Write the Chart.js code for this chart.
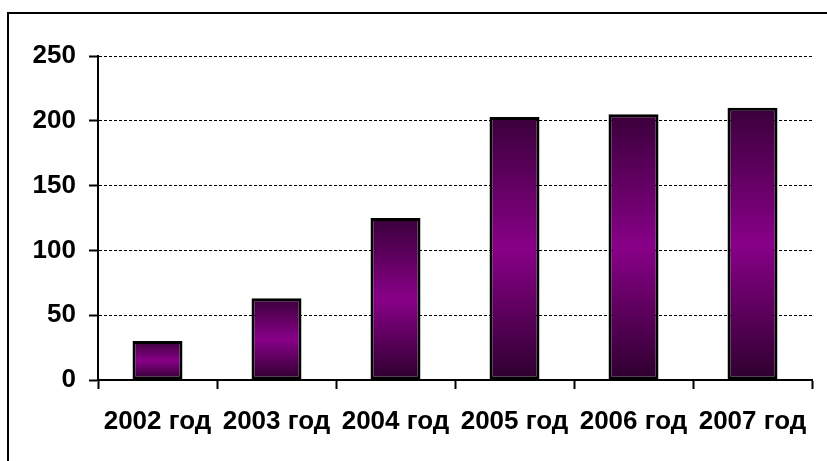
<!DOCTYPE html>
<html>
<head>
<meta charset="utf-8">
<script src="https://cdn.jsdelivr.net/npm/chart.js@4/dist/chart.umd.min.js"></script>
<style>
  html, body { margin: 0; padding: 0; background: #fff; overflow: hidden; }
  .frame {
    position: absolute; left: 7px; top: 12px; width: 900px; height: 600px;
    border: 2px solid #000;
  }
  .wrap { position: absolute; left: 0; top: 0; width: 827px; height: 461px; }
</style>
</head>
<body>
<div class="frame"></div>
<div class="wrap"><canvas id="chart"></canvas></div>
<script>
const categories = ['2002 год', '2003 год', '2004 год', '2005 год', '2006 год', '2007 год'];
const values = [30, 63, 125, 203, 205, 210];
const yTicks = [0, 50, 100, 150, 200, 250];

const font = { family: '"Liberation Sans", Arial, sans-serif', size: 26, weight: 'bold' };

function barGradient(context) {
  const chart = context.chart;
  if (!chart.chartArea || context.type !== 'data') return '#800080';
  const y = chart.scales.y;
  const top = y.getPixelForValue(context.raw);
  const base = y.getPixelForValue(0);
  const g = chart.ctx.createLinearGradient(0, top, 0, base);
  g.addColorStop(0, '#3a003a');
  g.addColorStop(0.5, '#880088');
  g.addColorStop(1, '#2e002e');
  return g;
}

new Chart(document.getElementById('chart'), {
  type: 'bar',
  data: {
    labels: categories,
    datasets: [{
      data: values,
      backgroundColor: barGradient,
      borderColor: '#000',
      borderWidth: 3,
      borderSkipped: false,
      barPercentage: 0.42,
      categoryPercentage: 1
    }]
  },
  options: {
    responsive: true,
    maintainAspectRatio: false,
    animation: false,
    layout: { padding: { top: 56, right: 15, left: 0, bottom: 0 } },
    plugins: { legend: { display: false }, tooltip: { enabled: false } },
    scales: {
      x: {
        grid: { drawOnChartArea: false, tickLength: 9, tickWidth: 2, color: '#000', tickColor: '#000' },
        border: { color: '#000', width: 2 },
        ticks: { color: '#000', font: font, padding: 17, maxRotation: 0, autoSkip: false },
        afterFit: (scale) => { scale.height = 81; }
      },
      y: {
        min: 0,
        max: 250,
        afterBuildTicks: (scale) => { scale.ticks = yTicks.map(v => ({ value: v })); },
        grid: { color: '#000', lineWidth: 1, tickLength: 9, tickWidth: 2, tickColor: '#000' },
        border: { color: '#000', width: 2, dash: [3, 2] },
        ticks: { color: '#000', font: font, padding: 13 },
        afterFit: (scale) => { scale.width = 98; }
      }
    }
  }
});
</script>
</body>
</html>
